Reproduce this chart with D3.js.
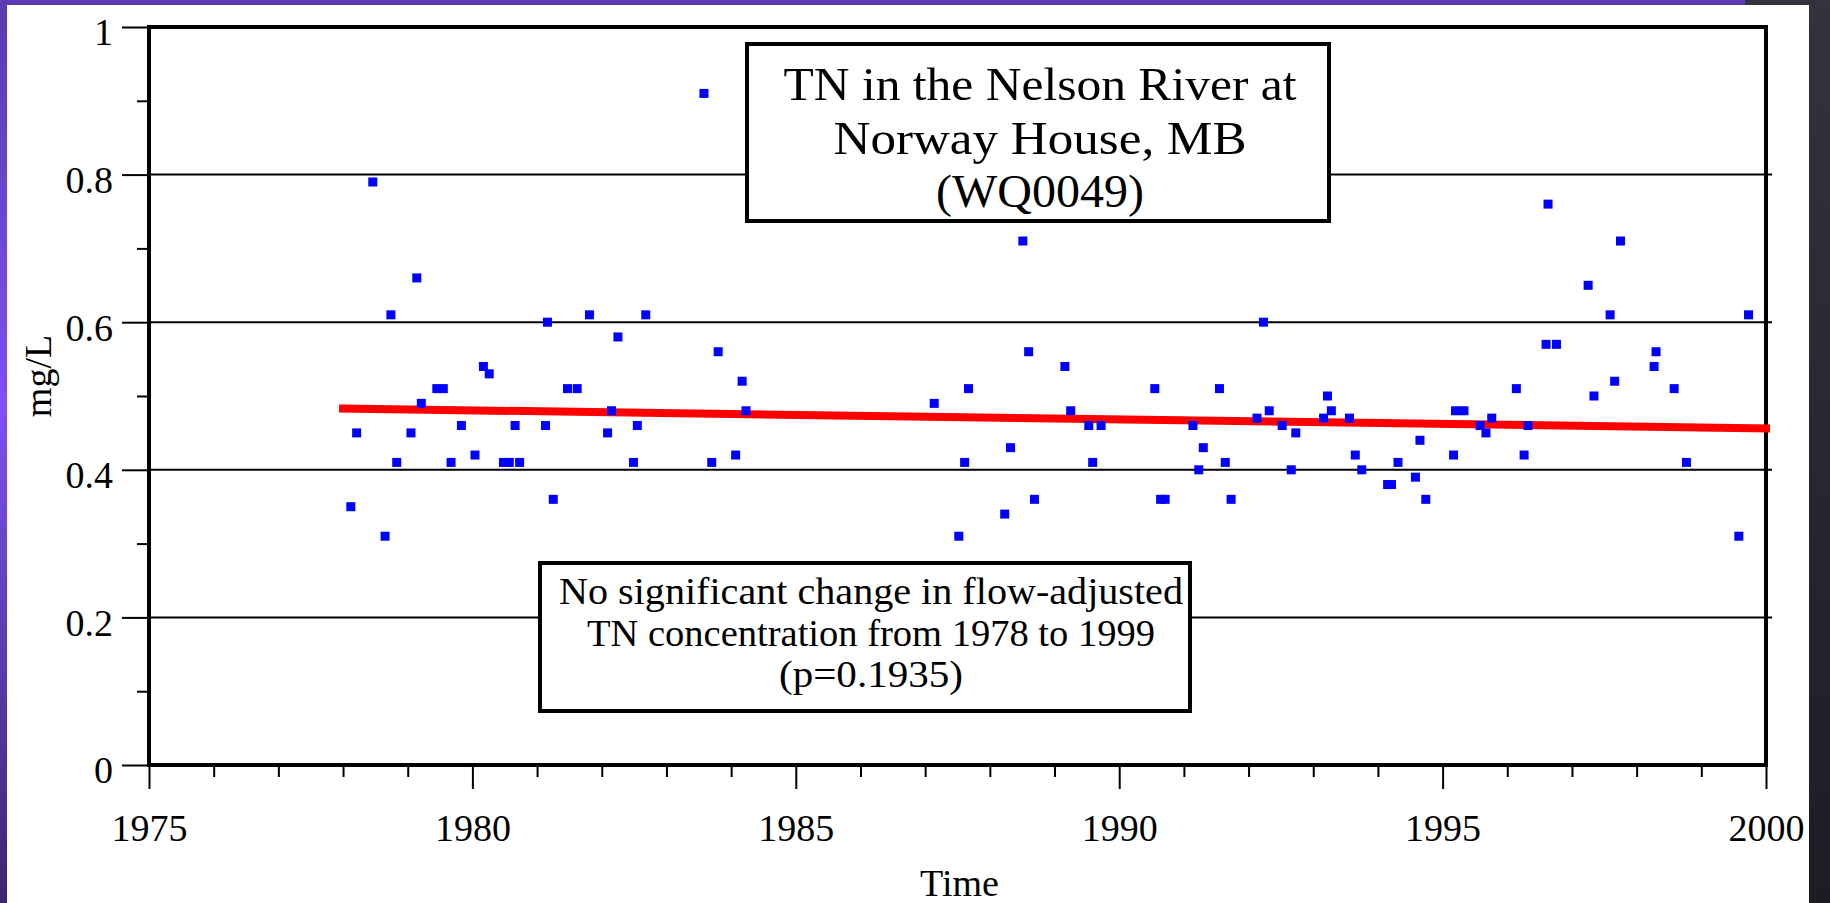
<!DOCTYPE html>
<html>
<head>
<meta charset="utf-8">
<script src="https://cdn.jsdelivr.net/npm/d3@7"></script>
<style>
  html, body { margin: 0; padding: 0; background: #ffffff; overflow: hidden; }
  svg { display: block; }
  text { font-family: "Liberation Serif", "Times New Roman", serif; fill: #000; }
</style>
</head>
<body>
<svg id="chart" width="1830" height="903"></svg>
<script>
// ---------------- data ----------------
const years = [
  1978.12, 1978.21, 1978.46, 1978.65, 1978.74, 1978.83, 1979.05, 1979.14, 1979.21, 1979.45,
  1979.55, 1979.67, 1979.83, 1980.04, 1980.17, 1980.26, 1980.48, 1980.57, 1980.66, 1980.73,
  1981.13, 1981.16, 1981.25, 1981.47, 1981.62, 1981.81, 1982.09, 1982.15, 1982.25, 1982.49,
  1982.55, 1982.68, 1983.58, 1983.70, 1983.80, 1984.07, 1984.17, 1984.23, 1987.14, 1987.52,
  1987.61, 1987.67, 1988.23, 1988.32, 1988.51, 1988.60, 1988.69, 1989.16, 1989.25, 1989.53,
  1989.59, 1989.72, 1990.55, 1990.64, 1990.71, 1991.14, 1991.23, 1991.30, 1991.55, 1991.64,
  1991.73, 1992.13, 1992.23, 1992.32, 1992.52, 1992.66, 1992.73, 1993.16, 1993.22, 1993.28,
  1993.56, 1993.65, 1993.75, 1994.15, 1994.21, 1994.31, 1994.58, 1994.65, 1994.74, 1995.17,
  1995.20, 1995.33, 1995.58, 1995.67, 1995.76, 1996.14, 1996.26, 1996.32, 1996.60, 1996.63,
  1996.76, 1997.25, 1997.34, 1997.59, 1997.66, 1997.75, 1998.27, 1998.30, 1998.58, 1998.77,
  1999.58, 1999.73
];
const tnValues = [
  0.35, 0.45, 0.79, 0.31, 0.61, 0.41, 0.45, 0.66, 0.49, 0.51,
  0.51, 0.41, 0.46, 0.42, 0.54, 0.53, 0.41, 0.41, 0.46, 0.41,
  0.46, 0.60, 0.36, 0.51, 0.51, 0.61, 0.45, 0.48, 0.58, 0.41,
  0.46, 0.61, 0.91, 0.41, 0.56, 0.42, 0.52, 0.48, 0.49, 0.31,
  0.41, 0.51, 0.34, 0.43, 0.71, 0.56, 0.36, 0.54, 0.48, 0.46,
  0.41, 0.46, 0.51, 0.36, 0.36, 0.46, 0.40, 0.43, 0.51, 0.41,
  0.36, 0.47, 0.60, 0.48, 0.46, 0.40, 0.45, 0.47, 0.50, 0.48,
  0.47, 0.42, 0.40, 0.38, 0.38, 0.41, 0.39, 0.44, 0.36, 0.42,
  0.48, 0.48, 0.46, 0.45, 0.47, 0.51, 0.42, 0.46, 0.57, 0.76,
  0.57, 0.65, 0.50, 0.61, 0.52, 0.71, 0.54, 0.56, 0.51, 0.41,
  0.31, 0.61
];
const trendYears = [1978.0, 2000.0];
const trendValues = [0.483, 0.456];

const xMajorTicks = [1975, 1980, 1985, 1990, 1995, 2000];
const xMinorTicks = [1976, 1977, 1978, 1979, 1981, 1982, 1983, 1984, 1986, 1987, 1988, 1989,
                     1991, 1992, 1993, 1994, 1996, 1997, 1998, 1999];
const yMajorTicks = [0, 0.2, 0.4, 0.6, 0.8, 1];
const yTickLabels = ["0", "0.2", "0.4", "0.6", "0.8", "1"];
const yMinorTicks = [0.1, 0.3, 0.5, 0.7, 0.9];
const gridValues = [0.2, 0.4, 0.6, 0.8];

const titleLines = ["TN in the Nelson River at", "Norway House, MB", "(WQ0049)"];
const noteLines = ["No significant change in flow-adjusted", "TN concentration from 1978 to 1999", "(p=0.1935)"];
const xAxisTitle = "Time";
const yAxisTitle = "mg/L";

// ---------------- layout ----------------
const svg = d3.select("#chart");
const W = 1830, H = 903;
const pLeft = 149, pRight = 1766, pTop = 27, pBottom = 765;
const fontFam = '"Liberation Serif", "Times New Roman", serif';

const x = d3.scaleLinear().domain([1975, 2000]).range([pLeft, pRight]);
const y = d3.scaleLinear().domain([0, 1]).range([pBottom, pTop]);

// background frame (slide)
const defs = svg.append("defs");
const lg = defs.append("linearGradient").attr("id", "leftGrad").attr("x1", 0).attr("y1", 0).attr("x2", 0).attr("y2", 1);
lg.append("stop").attr("offset", "0%").attr("stop-color", "#5a39b2");
lg.append("stop").attr("offset", "45%").attr("stop-color", "#7e50f0");
lg.append("stop").attr("offset", "100%").attr("stop-color", "#3a2670");
const rg = defs.append("linearGradient").attr("id", "rightGrad").attr("x1", 0).attr("y1", 0).attr("x2", 0).attr("y2", 1);
rg.append("stop").attr("offset", "0%").attr("stop-color", "#35323f");
rg.append("stop").attr("offset", "100%").attr("stop-color", "#1d1b24");

svg.append("rect").attr("x", 0).attr("y", 0).attr("width", W).attr("height", H).attr("fill", "#ffffff");

// gridlines
svg.append("g").selectAll("line").data(gridValues).join("line")
  .attr("x1", pLeft).attr("x2", pRight + 6)
  .attr("y1", d => y(d)).attr("y2", d => y(d))
  .attr("stroke", "#000").attr("stroke-width", 2);

// axes
const fontSize = 38;
const yAxisMajor = d3.axisLeft(y).tickValues(yMajorTicks).tickSize(27).tickPadding(9)
  .tickFormat((d, i) => yTickLabels[i]);
const gy = svg.append("g").attr("transform", `translate(${pLeft},0)`).call(yAxisMajor);
gy.select(".domain").remove();
gy.selectAll(".tick line").attr("stroke", "#000").attr("stroke-width", 2);
gy.selectAll(".tick text").attr("font-size", fontSize).attr("dy", "0.47em")
  .attr("fill", "#000").style("font-family", fontFam);

const gyMinor = svg.append("g").attr("transform", `translate(${pLeft},0)`)
  .call(d3.axisLeft(y).tickValues(yMinorTicks).tickSize(12).tickFormat(""));
gyMinor.select(".domain").remove();
gyMinor.selectAll(".tick line").attr("stroke", "#000").attr("stroke-width", 2);

const gx = svg.append("g").attr("transform", `translate(0,${pBottom})`)
  .call(d3.axisBottom(x).tickValues(xMajorTicks).tickSize(24).tickFormat(d3.format("d")));
gx.select(".domain").remove();
gx.selectAll(".tick line").attr("stroke", "#000").attr("stroke-width", 2);
gx.selectAll(".tick text").attr("font-size", fontSize).attr("y", 76).attr("dy", 0)
  .attr("fill", "#000").style("font-family", fontFam);

const gxMinor = svg.append("g").attr("transform", `translate(0,${pBottom})`)
  .call(d3.axisBottom(x).tickValues(xMinorTicks).tickSize(12).tickFormat(""));
gxMinor.select(".domain").remove();
gxMinor.selectAll(".tick line").attr("stroke", "#000").attr("stroke-width", 2);

// plot frame
svg.append("rect")
  .attr("x", x(1975)).attr("y", y(1))
  .attr("width", x(2000) - x(1975)).attr("height", y(0) - y(1))
  .attr("fill", "none").attr("stroke", "#000").attr("stroke-width", 4);

// trend line
const trendData = trendYears.map((d, i) => [d, trendValues[i]]);
svg.append("path")
  .datum(trendData)
  .attr("d", d3.line().x(d => x(d[0])).y(d => y(d[1])))
  .attr("fill", "none").attr("stroke", "#ff0000").attr("stroke-width", 8)
  .attr("stroke-linecap", "square");

// points
const sz = 9;
svg.append("g").selectAll("rect").data(years.map((d, i) => [d, tnValues[i]])).join("rect")
  .attr("x", d => x(d[0]) - sz / 2).attr("y", d => y(d[1]) - sz / 2)
  .attr("width", sz).attr("height", sz).attr("fill", "#0000ff");

// title box
const tb = { x0: 747, y0: 44, x1: 1329, y1: 221 };
const titleWidths = [513, 413, 208];
svg.append("rect").attr("x", tb.x0).attr("y", tb.y0).attr("width", tb.x1 - tb.x0).attr("height", tb.y1 - tb.y0)
  .attr("fill", "#fff").attr("stroke", "#000").attr("stroke-width", 4);
svg.append("g").selectAll("text").data(titleLines).join("text")
  .attr("x", (tb.x0 + tb.x1) / 2 + 2).attr("y", (d, i) => 100 + i * 53.5)
  .attr("text-anchor", "middle").attr("font-size", 47)
  .attr("textLength", (d, i) => titleWidths[i]).attr("lengthAdjust", "spacingAndGlyphs")
  .style("font-family", fontFam).attr("fill", "#000")
  .text(d => d);

// note box
const nb = { x0: 540, y0: 563, x1: 1190, y1: 711 };
const noteWidths = [624, 568, 184];
svg.append("rect").attr("x", nb.x0).attr("y", nb.y0).attr("width", nb.x1 - nb.x0).attr("height", nb.y1 - nb.y0)
  .attr("fill", "#fff").attr("stroke", "#000").attr("stroke-width", 4);
svg.append("g").selectAll("text").data(noteLines).join("text")
  .attr("x", (nb.x0 + nb.x1) / 2 + 6).attr("y", (d, i) => 604 + i * 41.5)
  .attr("text-anchor", "middle").attr("font-size", 38)
  .attr("textLength", (d, i) => noteWidths[i]).attr("lengthAdjust", "spacingAndGlyphs")
  .style("font-family", fontFam).attr("fill", "#000")
  .text(d => d);

// axis titles
svg.append("text").attr("x", (pLeft + pRight) / 2 + 2).attr("y", 896)
  .attr("text-anchor", "middle").attr("font-size", fontSize)
  .style("font-family", fontFam).text(xAxisTitle);
svg.append("text")
  .attr("transform", `translate(51,376) rotate(-90)`)
  .attr("text-anchor", "middle").attr("font-size", fontSize)
  .style("font-family", fontFam).text(yAxisTitle);

// slide edges
svg.append("rect").attr("x", 0).attr("y", 0).attr("width", 7).attr("height", H).attr("fill", "url(#leftGrad)");
svg.append("rect").attr("x", 0).attr("y", 0).attr("width", 1745).attr("height", 5).attr("fill", "#5c3ab4");
svg.append("rect").attr("x", 1745).attr("y", 0).attr("width", W - 1745).attr("height", 5).attr("fill", "#35323f");
svg.append("rect").attr("x", 1809).attr("y", 0).attr("width", W - 1809).attr("height", H).attr("fill", "url(#rightGrad)");
</script>
</body>
</html>
